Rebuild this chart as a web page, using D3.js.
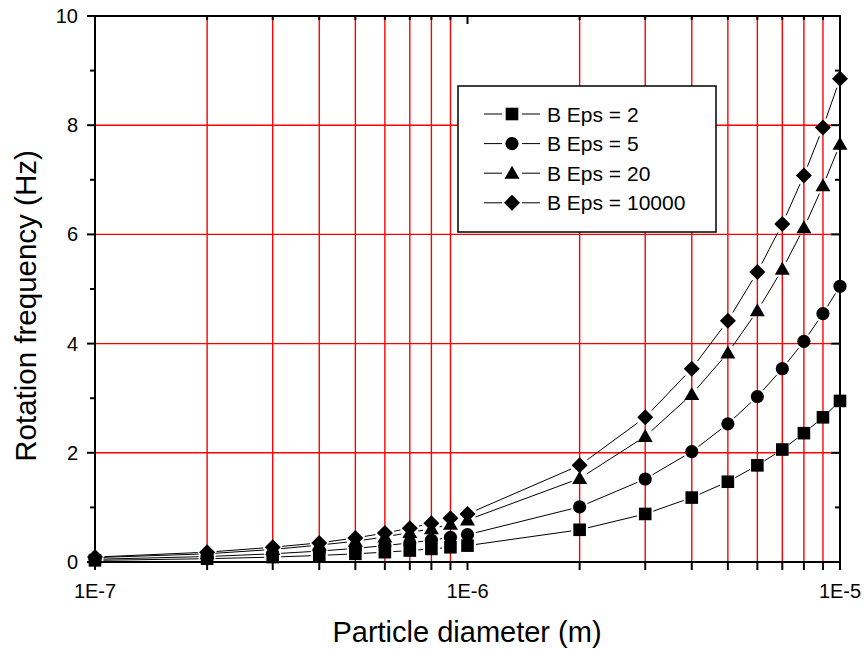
<!DOCTYPE html>
<html><head><meta charset="utf-8">
<script src="https://cdn.jsdelivr.net/npm/d3@7"></script>
<style>body{margin:0;background:#fff}svg{display:block}text{font-family:Arial,"Liberation Sans",sans-serif;fill:#000}</style>
</head><body><svg id="c" width="865" height="650"></svg>
<script>
const diameters = [1e-7,2e-7,3e-7,4e-7,5e-7,6e-7,7e-7,8e-7,9e-7,1e-6,2e-6,3e-6,4e-6,5e-6,6e-6,7e-6,8e-6,9e-6,1e-5];
const seriesNames = ["B Eps = 2","B Eps = 5","B Eps = 20","B Eps = 10000"];
const eps2     = [0.03,0.06,0.09,0.12,0.15,0.18,0.21,0.24,0.27,0.30,0.59,0.88,1.18,1.47,1.77,2.06,2.36,2.65,2.95];
const eps5     = [0.05,0.10,0.15,0.20,0.25,0.30,0.35,0.40,0.45,0.50,1.01,1.52,2.02,2.53,3.03,3.54,4.04,4.55,5.05];
const eps20    = [0.08,0.15,0.23,0.31,0.38,0.46,0.54,0.61,0.69,0.77,1.53,2.30,3.07,3.83,4.60,5.36,6.12,6.89,7.65];
const eps10000 = [0.09,0.18,0.27,0.35,0.44,0.53,0.62,0.71,0.80,0.88,1.77,2.65,3.54,4.42,5.31,6.19,7.08,7.96,8.85];
const symbols = ["square","circle","triangle","diamond"];
const xTickLabels = ["1E-7","1E-6","1E-5"];
const yTicks = [0,2,4,6,8,10];
const yMinor = [1,3,5,7,9];
const xGrid = [2e-7,3e-7,4e-7,5e-7,6e-7,7e-7,8e-7,9e-7,2e-6,3e-6,4e-6,5e-6,6e-6,7e-6,8e-6,9e-6];
const yGrid = [2,4,6,8];

const allSeries = [eps2,eps5,eps20,eps10000];
const L=95,R=840,T=16,B=562;
const svg=d3.select("#c");
const x=d3.scaleLog().domain([1e-7,1e-5]).range([L,R]);
const y=d3.scaleLinear().domain([0,10]).range([B,T]);

// grid
const grid=svg.append("g").attr("stroke","#ff0000").attr("stroke-width",1.4);
grid.selectAll(".gx").data(xGrid).join("line")
  .attr("x1",d=>x(d)).attr("x2",d=>x(d)).attr("y1",T).attr("y2",B);
grid.selectAll(".gy").data(yGrid).join("line")
  .attr("y1",d=>y(d)).attr("y2",d=>y(d)).attr("x1",L).attr("x2",R);

// axes
const xMajor=[1e-7,1e-6,1e-5];
const xAll=[...xGrid,...xMajor];
const ax=svg.append("g").attr("stroke","#000").attr("stroke-width",2);
ax.selectAll(".bt").data(xAll).join("line").attr("x1",d=>x(d)).attr("x2",d=>x(d)).attr("y1",B).attr("y2",B+8);
ax.selectAll(".tt").data(xAll).join("line").attr("x1",d=>x(d)).attr("x2",d=>x(d)).attr("y1",T).attr("y2",d=>T+(xMajor.includes(d)?8:4));
ax.selectAll(".lt").data(yTicks).join("line").attr("x1",L-8).attr("x2",L).attr("y1",d=>y(d)).attr("y2",d=>y(d));
ax.selectAll(".lm").data(yMinor).join("line").attr("x1",L-5).attr("x2",L).attr("y1",d=>y(d)).attr("y2",d=>y(d));
ax.selectAll(".rt").data(yTicks).join("line").attr("x1",R-9).attr("x2",R).attr("y1",d=>y(d)).attr("y2",d=>y(d));
ax.selectAll(".rm").data(yMinor).join("line").attr("x1",R-5).attr("x2",R).attr("y1",d=>y(d)).attr("y2",d=>y(d));
ax.append("rect").attr("x",L).attr("y",T).attr("width",R-L).attr("height",B-T).attr("fill","none");

// tick labels
svg.append("g").selectAll("text").data(xMajor).join("text")
  .attr("x",d=>x(d)).attr("y",598).attr("text-anchor","middle").attr("font-size",20)
  .text((d,i)=>xTickLabels[i]);
svg.append("g").selectAll("text").data(yTicks).join("text")
  .attr("x",78).attr("y",d=>y(d)+7).attr("text-anchor","end").attr("font-size",20)
  .text(d=>d);

// axis titles
svg.append("text").attr("x",467).attr("y",642).attr("text-anchor","middle").attr("font-size",29).text("Particle diameter (m)");
svg.append("text").attr("transform","translate(36,306) rotate(-90)").attr("text-anchor","middle").attr("font-size",29.5).text("Rotation frequency (Hz)");

function sym(g,type){
  if(type==="square") g.append("rect").attr("x",-6.3).attr("y",-6.3).attr("width",12.6).attr("height",12.6);
  else if(type==="circle") g.append("circle").attr("r",6.6);
  else if(type==="triangle") g.append("path").attr("d","M0,-7.5L7.5,5.5L-7.5,5.5Z");
  else g.append("path").attr("d","M0,-8L8,0L0,8L-8,0Z");
}
const gapR=[8.5,8.5,8.5,9.5];

allSeries.forEach((vals,si)=>{
  const pts=diameters.map((d,i)=>[x(d),y(vals[i])]);
  const g=svg.append("g").attr("stroke","#000").attr("stroke-width",1);
  for(let i=0;i<pts.length-1;i++){
    const [x1,y1]=pts[i],[x2,y2]=pts[i+1];
    const dx=x2-x1,dy=y2-y1,len=Math.hypot(dx,dy);
    const g0=gapR[si];
    if(len<=2*g0+1) continue;
    const ux=dx/len,uy=dy/len;
    g.append("line").attr("x1",x1+ux*g0).attr("y1",y1+uy*g0).attr("x2",x2-ux*g0).attr("y2",y2-uy*g0);
  }
});
allSeries.forEach((vals,si)=>{
  const g=svg.append("g").attr("fill","#000");
  diameters.forEach((d,i)=>{
    const m=g.append("g").attr("transform",`translate(${x(d)},${y(vals[i])})`);
    sym(m,symbols[si]);
  });
});

// legend
const lg=svg.append("g");
lg.append("rect").attr("x",458).attr("y",86).attr("width",258).attr("height",146).attr("fill","#fff").attr("stroke","#000").attr("stroke-width",1.5);
seriesNames.forEach((n,i)=>{
  const cy=114+i*29.6;
  lg.append("line").attr("x1",484).attr("x2",502).attr("y1",cy).attr("y2",cy).attr("stroke","#000").attr("stroke-width",1);
  lg.append("line").attr("x1",522).attr("x2",540).attr("y1",cy).attr("y2",cy).attr("stroke","#000").attr("stroke-width",1);
  const m=lg.append("g").attr("transform",`translate(512,${cy})`).attr("fill","#000");
  sym(m,symbols[i]);
  lg.append("text").attr("x",547).attr("y",cy+7.5).attr("font-size",21).text(n);
});
</script></body></html>
